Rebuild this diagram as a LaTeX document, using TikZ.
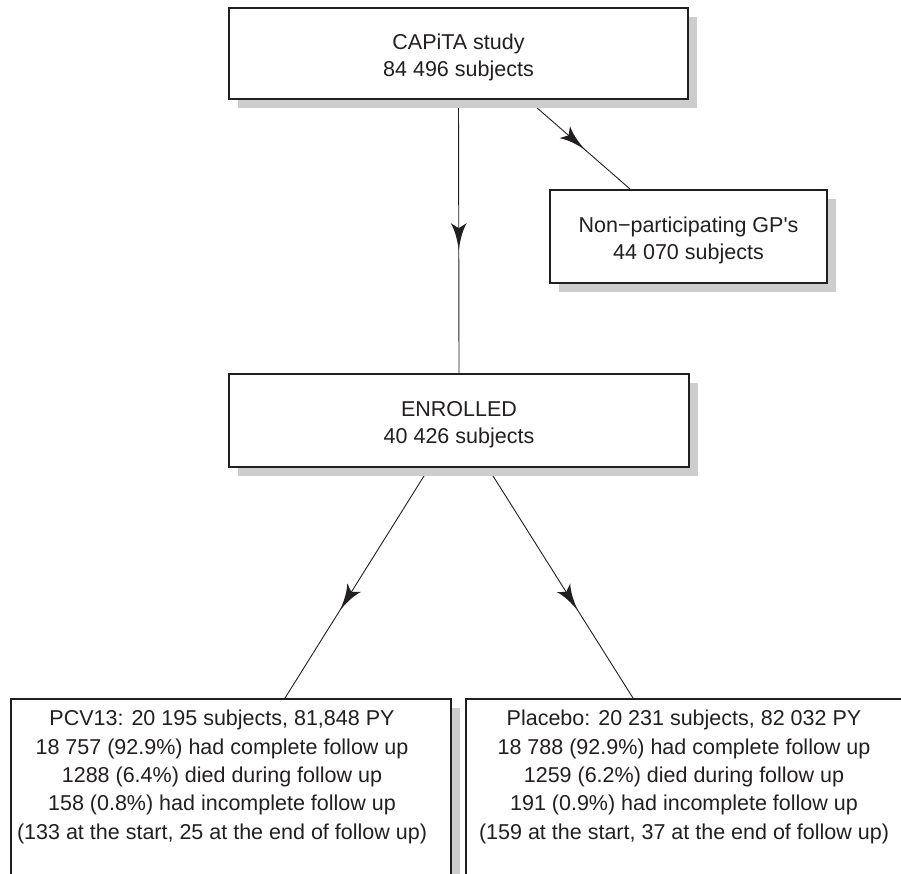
\documentclass[tikz,border=0pt]{standalone}
\usepackage{fontspec}
\newfontfamily\arial{Liberation Sans}
\usetikzlibrary{shadows,decorations.markings}
\pgfdeclarelayer{background}
\pgfsetlayers{background,main}
\definecolor{ink}{HTML}{231F20}
\definecolor{shade}{HTML}{CDCDCD}
\newcommand{\lowerby}{\rule{0pt}{23pt}}
\tikzset{
  box/.style={draw=ink, line width=2pt, fill=white, inner sep=0pt, align=center, text=ink,
    font=\arial\fontsize{21.5}{27}\selectfont,
    drop shadow={shadow xshift=9pt, shadow yshift=-9pt, fill=shade, opacity=1}},
  boxtext/.style={align=center, text=ink, inner sep=0pt, font=\arial\fontsize{21.5}{28.3}\selectfont},
  conn/.style={draw=ink, line width=0.9pt},
  midarrow/.style={postaction={decorate}, decoration={markings, mark=at position #1 with {
    \fill[ink] (0pt,0pt) .. controls (-10pt,1.3pt) and (-20pt,3.8pt) .. (-27pt,8pt)
      -- (-22pt,0pt) -- (-27pt,-8pt) .. controls (-20pt,-3.8pt) and (-10pt,-1.3pt) .. (0pt,0pt) -- cycle;}}}
}
\begin{document}
\begin{tikzpicture}[x=1pt,y=-1pt]
\useasboundingbox (0,0) rectangle (901,873);
\node[box, minimum width=459pt, minimum height=91pt] (top) at (458.5,53.5) {\lowerby CAPiTA study\\84 496 subjects};
\node[box, minimum width=277pt, minimum height=93pt] (np) at (688.5,236.5) {\lowerby Non−participating GP's\\44 070 subjects};
\node[box, minimum width=460pt, minimum height=93pt] (enr) at (459,420.5) {\lowerby ENROLLED\\40 426 subjects};
\node[box, minimum width=440pt, minimum height=260pt] (pcv) at (231,829) {};
\node[box, minimum width=440pt, minimum height=260pt] (pla) at (686,829) {};
\node[boxtext] (pcvt) at (222,777) {PCV13: 20 195 subjects, 81,848 PY\\18 757 (92.9\%) had complete follow up\\1288 (6.4\%) died during follow up\\158 (0.8\%) had incomplete follow up\\(133 at the start, 25 at the end of follow up)};
\node[boxtext] (plat) at (684,777) {Placebo: 20 231 subjects, 82 032 PY\\18 788 (92.9\%) had complete follow up\\1259 (6.2\%) died during follow up\\191 (0.9\%) had incomplete follow up\\(159 at the start, 37 at the end of follow up)};
\begin{pgfonlayer}{background}
\draw[conn, midarrow=0.55] (top.south) -- (enr.north);
\draw[conn, midarrow=0.56] ([xshift=-161pt]top.south east) -- ([xshift=-58.5pt]np.north);
\draw[conn, midarrow=0.62] ([xshift=-30pt]enr.south) -- ([xshift=54pt]pcv.north);
\draw[conn, midarrow=0.62] ([xshift=29pt]enr.south) -- ([xshift=-53pt]pla.north);
\end{pgfonlayer}
\end{tikzpicture}
\end{document}
